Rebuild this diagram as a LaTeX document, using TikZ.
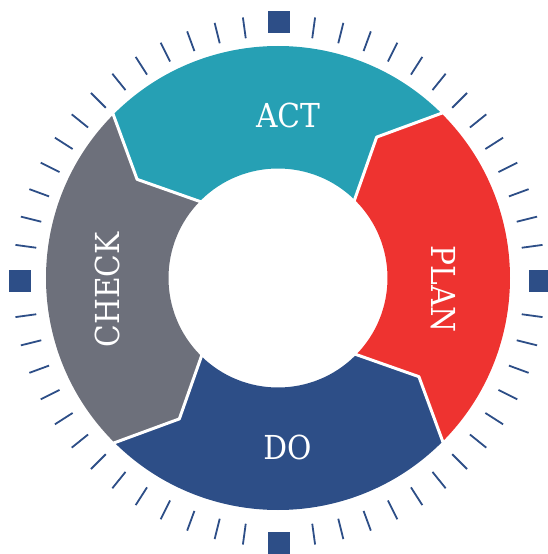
\documentclass[tikz,border=0pt]{standalone}
\usepackage{fontspec}
\newfontfamily\slabfont[FakeStretch=0.9]{DejaVu Serif}
\usetikzlibrary{calc}
\definecolor{planred}{RGB}{238,51,48}
\definecolor{actteal}{RGB}{38,160,180}
\definecolor{checkgray}{RGB}{109,112,123}
\definecolor{donavy}{RGB}{45,78,135}

\begin{document}
\begin{tikzpicture}[x=1pt,y=1pt]
        \tikzstyle{lnode} = [text=white, inner sep=0pt, font=\slabfont\fontsize{33}{33}\selectfont]
        \tikzstyle{sqnode} = [fill=donavy, rectangle, minimum size=22pt, inner sep=0pt]
        \tikzstyle{ticks} = [draw=donavy, line width=1.8pt]
        \tikzstyle{cut} = [draw=white, line width=3pt, line join=round]

        \useasboundingbox (-278,-276) rectangle (270,278);

        % ring segments
        \foreach \a/\c in {0/planred,90/actteal,180/checkgray,270/donavy}{
          \fill[\c] ({\a-45}:232) arc[start angle=\a-45, end angle=\a+45, radius=232]
            -- ({\a+55}:172) -- ({\a+45}:109.5)
            arc[start angle=\a+45, end angle=\a-45, radius=109.5]
            -- ({\a-35}:172) -- cycle;
        }
        \foreach \b in {45,135,225,315}
          \draw[cut] (\b:234) -- ({\b+10}:172) -- (\b:107);

        % dial
        \begin{scope}[shift={(1,-3)}]
          \foreach \q in {45,135,225,315}
            \foreach \k in {-6,...,6}
              \draw[ticks] ({\q+6.2*\k}:245) -- ({\q+6.2*\k}:266);
          \node[sqnode] (sqt) at (90:259) {};
          \node[sqnode] (sql) at (180:259) {};
          \node[sqnode] (sqr) at (0:261) {};
          \node[sqnode] (sqb) at (270:262) {};
        \end{scope}

        \node[lnode] (act) at (10,162.5) {ACT};
        \node[lnode, rotate=-90] (plan) at (165.5,-11) {PLAN};
        \node[lnode] (do) at (9.5,-169.5) {DO};
        \node[lnode, rotate=90] (check) at (-170.5,-12) {CHECK};
\end{tikzpicture}
\end{document}
